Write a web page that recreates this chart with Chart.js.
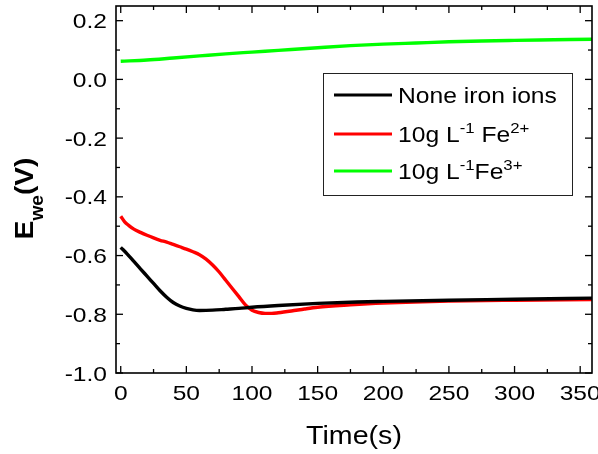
<!DOCTYPE html>
<html><head><meta charset="utf-8">
<script src="https://cdn.jsdelivr.net/npm/chart.js@4.4.1/dist/chart.umd.min.js"></script>
<style>html,body{margin:0;padding:0;background:#fff;}#wrap{width:598px;height:454px;}</style>
</head><body><div id="wrap"><canvas id="c" width="598" height="454"></canvas></div>
<script>
// ---- data ----
const timeBlack = [0,5,10,15,20,25,30,35,40,45,50,55,60,70,80,90,100,120,150,180,200,250,300,359];
const eBlack    = [-0.572,-0.595,-0.620,-0.645,-0.670,-0.695,-0.720,-0.742,-0.760,-0.772,-0.780,-0.785,-0.787,-0.786,-0.783,-0.780,-0.776,-0.770,-0.763,-0.758,-0.756,-0.752,-0.749,-0.745];
const timeRed = [0,3,6,10,15,20,25,30,35,40,45,50,55,60,65,70,75,80,85,90,95,100,105,110,115,120,130,140,150,175,200,250,300,359];
const eRed    = [-0.466,-0.485,-0.497,-0.510,-0.521,-0.531,-0.540,-0.548,-0.554,-0.562,-0.570,-0.578,-0.587,-0.597,-0.612,-0.632,-0.656,-0.684,-0.712,-0.740,-0.768,-0.786,-0.794,-0.797,-0.797,-0.795,-0.789,-0.782,-0.776,-0.768,-0.762,-0.755,-0.752,-0.750];
const timeGreen = [0,20,40,60,80,100,120,150,175,200,225,250,275,300,330,359];
const eGreen    = [0.062,0.066,0.073,0.080,0.087,0.093,0.099,0.108,0.115,0.120,0.124,0.128,0.131,0.133,0.135,0.137];

const seriesColors = ['#000000','#ff0000','#00ff00'];
const legendLabels = [
  [{t:'None iron ions'}],
  [{t:'10g L'},{t:'-1',sup:true},{t:' Fe'},{t:'2+',sup:true}],
  [{t:'10g L'},{t:'-1',sup:true},{t:'Fe'},{t:'3+',sup:true}]
];
const xMajorTicks = [0,50,100,150,200,250,300,350];
const xTickLabels = ['0','50','100','150','200','250','300','350'];
const xMinorTicks = [25,75,125,175,225,275,325];
const yMajorTicks = [-1.0,-0.8,-0.6,-0.4,-0.2,0.0,0.2];
const yTickLabels = ['-1.0','-0.8','-0.6','-0.4','-0.2','0.0','0.2'];
const yMinorTicks = [-0.9,-0.7,-0.5,-0.3,-0.1,0.1];
const xTitle = 'Time(s)';
const yTitle = [{t:'E'},{t:'we',sub:true},{t:'(V)'}];

function pts(xs, ys){ return xs.map((x,i)=>({x:x, y:ys[i]})); }

const FONT = '"Liberation Sans", Arial, sans-serif';

const axesPlugin = {
  id:'axesPlugin',
  afterDraw(chart){
    const ctx = chart.ctx, a = chart.chartArea;
    const xs = chart.scales.x, ys = chart.scales.y;
    ctx.save();
    ctx.strokeStyle = '#000'; ctx.fillStyle = '#000';
    // frame
    ctx.lineWidth = 1.6;
    ctx.strokeRect(a.left, a.top, a.right - a.left, a.bottom - a.top);
    // ticks
    ctx.lineWidth = 1.3;
    const tick = (x1,y1,x2,y2)=>{ctx.beginPath();ctx.moveTo(x1,y1);ctx.lineTo(x2,y2);ctx.stroke();};
    xMajorTicks.forEach(v=>{const p=xs.getPixelForValue(v); tick(p,a.bottom,p,a.bottom-7); tick(p,a.top,p,a.top+7);});
    xMinorTicks.forEach(v=>{const p=xs.getPixelForValue(v); tick(p,a.bottom,p,a.bottom-4); tick(p,a.top,p,a.top+4);});
    yMajorTicks.forEach(v=>{const p=ys.getPixelForValue(v); tick(a.left,p,a.left+7,p); tick(a.right,p,a.right-7,p);});
    yMinorTicks.forEach(v=>{const p=ys.getPixelForValue(v); tick(a.left,p,a.left+4,p); tick(a.right,p,a.right-4,p);});
    // tick labels
    ctx.font = '21px ' + FONT;
    ctx.textBaseline = 'alphabetic';
    const sx = 1.17;
    xMajorTicks.forEach((v,i)=>{
      const p = xs.getPixelForValue(v);
      ctx.save(); ctx.translate(p, a.bottom + 27); ctx.scale(sx,1); ctx.textAlign='center';
      ctx.fillText(xTickLabels[i],0,0); ctx.restore();
    });
    yMajorTicks.forEach((v,i)=>{
      const p = ys.getPixelForValue(v);
      ctx.save(); ctx.translate(a.left - 9, p + 7.5); ctx.scale(sx,1); ctx.textAlign='right';
      ctx.fillText(yTickLabels[i],0,0); ctx.restore();
    });
    // x title
    ctx.font = '26px ' + FONT;
    ctx.save(); ctx.translate((a.left + a.right)/2, a.bottom + 71); ctx.scale(1.1,1); ctx.textAlign='center';
    ctx.fillText(xTitle,0,0); ctx.restore();
    // y title (rotated, with subscript)
    const mainF = 'bold 26px ' + FONT, subF = 'bold 18px ' + FONT;
    let total = 0;
    yTitle.forEach(s=>{ctx.font = s.sub?subF:mainF; total += ctx.measureText(s.t).width;});
    const ls = 1.07;
    ctx.save();
    ctx.translate(33, (a.top + a.bottom)/2 + 9);
    ctx.rotate(-Math.PI/2);
    ctx.scale(ls,1);
    ctx.textAlign='left';
    let cx = -total/2;
    yTitle.forEach(s=>{
      ctx.font = s.sub?subF:mainF;
      ctx.fillText(s.t, cx, s.sub ? 10 : 0);
      cx += ctx.measureText(s.t).width;
    });
    ctx.restore();
    // legend
    const bx = 323.5, by = 73.5, bw = 249, bh = 122;
    ctx.lineWidth = 1; ctx.strokeStyle = '#222';
    ctx.strokeRect(bx, by, bw, bh);
    const rows = [95, 134, 171];
    chart.data.datasets.forEach((ds,i)=>{
      const y = rows[i];
      ctx.strokeStyle = ds.borderColor; ctx.lineWidth = 3;
      tick(334, y, 392, y);
      ctx.save(); ctx.translate(398, y + 8); ctx.scale(1.12,1); ctx.textAlign='left';
      let tx = 0;
      legendLabels[i].forEach(s=>{
        ctx.font = (s.sup ? '15px ' : '22px ') + FONT;
        ctx.fillText(s.t, tx, s.sup ? -9 : 0);
        tx += ctx.measureText(s.t).width;
      });
      ctx.restore();
    });
    ctx.restore();
  }
};

new Chart(document.getElementById('c'), {
  type:'line',
  data:{ datasets:[
    {label:'None iron ions', data:pts(timeBlack,eBlack), borderColor:seriesColors[0]},
    {label:'10g L-1 Fe2+', data:pts(timeRed,eRed), borderColor:seriesColors[1]},
    {label:'10g L-1 Fe3+', data:pts(timeGreen,eGreen), borderColor:seriesColors[2]}
  ]},
  options:{
    responsive:false, animation:false,
    layout:{padding:{left:116, right:6, top:6, bottom:81}},
    elements:{ line:{borderWidth:3.4, cubicInterpolationMode:'monotone', fill:false}, point:{radius:0} },
    plugins:{ legend:{display:false}, tooltip:{enabled:false} },
    scales:{
      x:{type:'linear', min:-3.6, max:359, display:false},
      y:{type:'linear', min:-1.0, max:0.25, display:false}
    }
  },
  plugins:[axesPlugin]
});
</script>
</body></html>
